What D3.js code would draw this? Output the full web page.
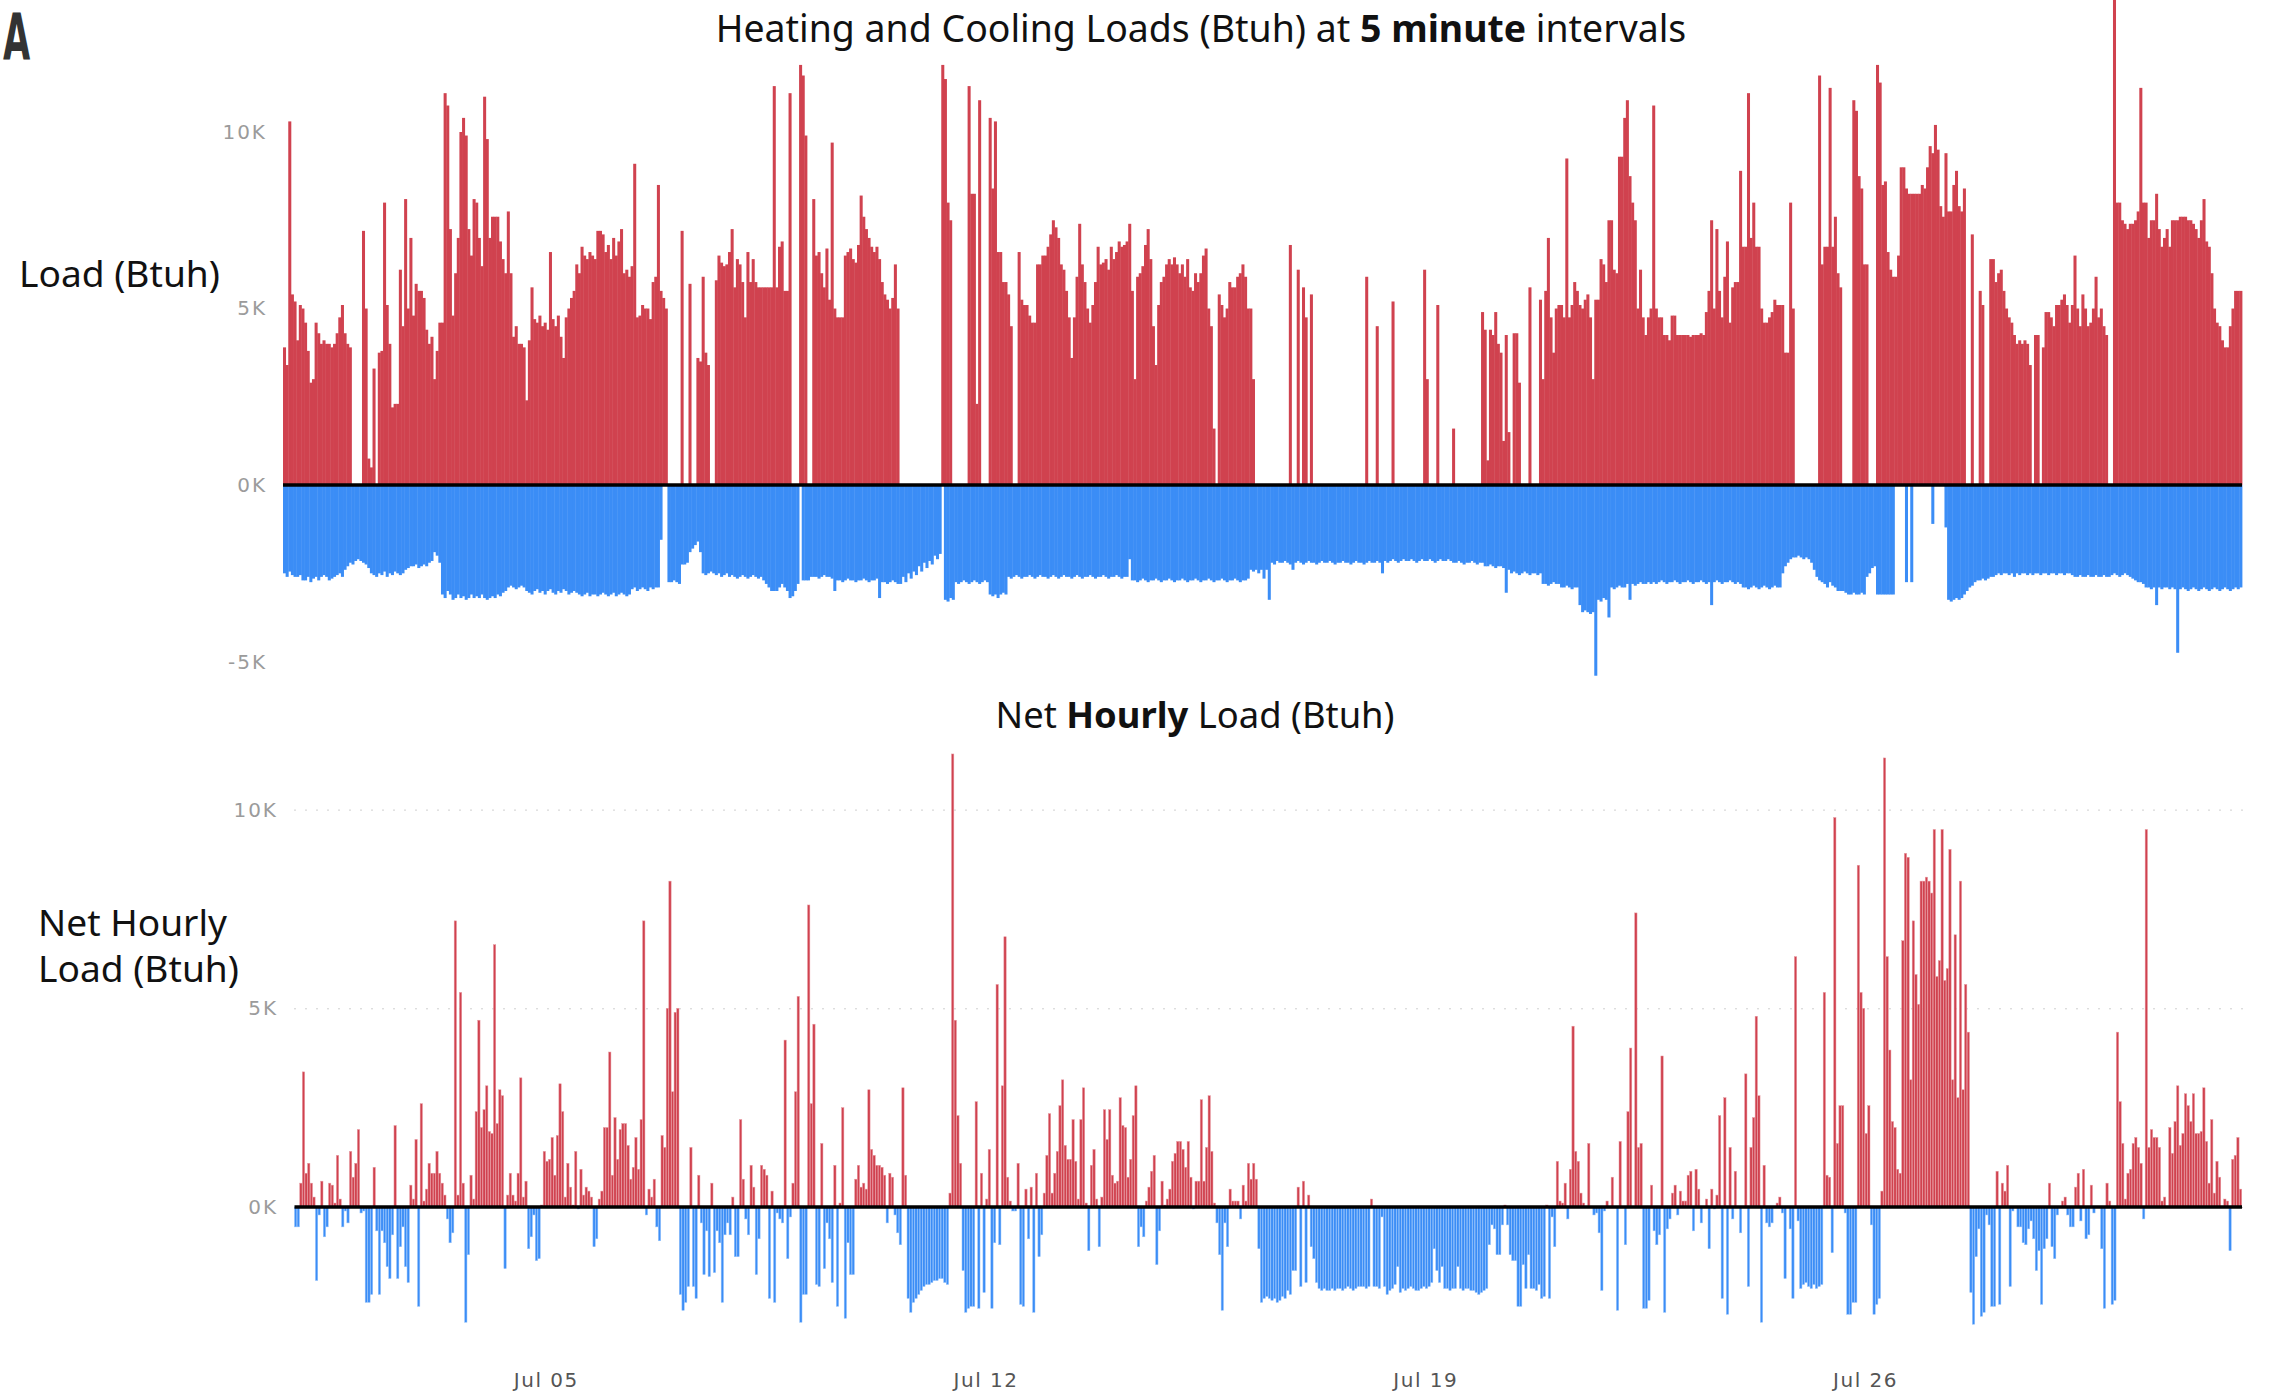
<!DOCTYPE html>
<html>
<head>
<meta charset="utf-8">
<script src="https://cdn.jsdelivr.net/npm/d3@7"></script>
<style>
  html, body { margin: 0; padding: 0; background: #fff; }
  svg { display: block; }
</style>
</head>
<body>
<svg id="chart" width="2275" height="1400"></svg>
<script>
// All loads are in thousands of Btuh, one value per hour of July (one row per day).

// Upper panel: peak positive load within each hour
const posLoadW1 = [
  3.9,3.4,10.3,5.4,5.2,4.1,5.1,5.0,4.6,3.8,2.9,3.0,4.6,4.3,4.0,4.1,4.0,4.0,3.9,4.0,4.3,4.75,5.1,4.3,
  4.0,3.9,0,0,0,0,7.2,5.0,0.75,0.5,3.3,0,3.75,3.8,8.0,5.1,4.0,2.2,2.3,2.3,6.1,4.5,8.1,5.0,
  7.0,4.8,5.7,5.5,5.5,5.3,4.4,4.0,4.2,3.0,3.8,4.6,4.6,11.1,10.75,7.25,4.8,6.0,7.0,10.0,10.4,9.9,7.25,6.5,
  8.1,8.0,7.0,6.2,11.0,9.8,7.0,7.6,7.6,7.6,6.9,6.4,6.0,7.75,6.0,4.2,4.5,4.0,4.0,3.9,2.4,4.1,5.6,4.7,
  4.6,4.8,4.5,4.6,4.4,6.6,4.7,4.5,4.8,4.2,3.6,4.75,5.0,5.3,5.5,6.25,6.0,6.75,6.5,6.4,6.6,6.5,6.4,7.2,
  7.2,7.1,6.6,6.8,6.4,7.0,6.5,6.9,7.25,6.0,6.1,5.9,6.2,9.1,4.75,4.8,5.1,5.0,5.0,4.7,5.75,5.9,8.5,5.5,
  5.3,5.0,0,0,0,0,0,7.2,0,0,5.7,0,0,3.6,3.5,5.9,3.75,3.4,0,0,5.8,6.5,6.3,6.2
];
const posLoadW2 = [
  6.25,6.6,7.25,5.6,6.4,6.25,5.75,4.75,6.6,5.75,6.4,5.75,5.6,5.6,5.6,5.6,5.6,5.6,11.3,5.6,6.75,6.9,5.5,5.5,
  11.1,0,0,0,11.9,11.6,9.9,0,0,8.1,6.5,6.6,6.0,5.6,6.7,5.25,9.7,5.0,4.75,4.75,4.75,6.5,6.6,6.7,
  6.4,6.3,6.8,8.2,7.6,7.25,7.0,6.75,6.6,6.75,6.4,5.75,5.4,5.25,5.0,5.3,6.25,5.0,0,0,0,0,0,0,
  0,0,0,0,0,0,0,0,0,0,11.9,11.5,8.0,7.5,0,0,0,0,0,0,11.3,8.25,8.25,2.3,
  10.9,0,0,0,10.4,8.4,10.3,6.6,6.6,5.75,5.75,5.4,4.5,0,0,6.6,5.25,5.1,5.1,4.8,4.6,4.6,6.25,6.25,
  6.5,6.5,6.75,7.1,7.5,7.3,7.0,6.25,6.1,5.5,4.75,3.6,4.75,5.9,7.4,6.25,5.75,5.0,4.6,5.1,5.75,6.75,6.25,6.3,
  6.4,6.1,6.75,6.4,6.6,6.9,6.75,6.8,6.9,7.4,5.5,3.0,5.9,6.0,6.2,6.8,7.25,6.4,4.5,3.4,5.1,5.75,5.9,6.25
];
const posLoadW3 = [
  6.4,6.25,6.45,6.25,6.0,6.25,5.9,6.4,5.6,5.5,6.0,5.75,6.0,6.5,6.7,5.0,4.5,1.6,0,5.4,5.1,4.75,5.0,5.75,
  5.6,5.6,5.9,6.0,6.25,5.9,5.0,5.0,3.0,0,0,0,0,0,0,0,0,0,0,0,0,0,6.8,0,
  0,6.1,0,5.6,4.75,0,5.4,0,0,0,0,0,0,0,0,0,0,0,0,0,0,0,0,0,
  0,0,0,5.9,0,0,0,4.5,0,0,0,0,0,5.2,0,0,0,0,0,0,0,0,0,0,
  0,6.1,3.0,0,0,0,5.1,0,0,0,0,0,1.6,0,0,0,0,0,0,0,0,0,0,4.9,
  4.4,0.7,4.4,4.25,4.9,4.0,3.75,1.25,4.25,1.5,0,4.3,4.3,2.9,0,0,0,5.6,0,0,0,5.25,3.0,5.5,
  7.0,4.75,3.75,5.0,5.1,5.1,4.75,9.25,4.75,5.1,5.75,5.5,5.1,5.0,5.25,5.4,4.75,3.0,5.25,5.25,6.4,6.25,5.75,7.5
];
const posLoadW4 = [
  7.5,6.1,6.0,9.3,9.3,10.4,10.9,8.75,8.0,7.5,5.0,6.1,4.75,4.25,4.75,5.0,10.75,5.0,4.75,4.75,4.25,4.25,4.1,4.8,
  4.8,4.25,4.25,4.25,4.25,4.25,4.2,4.25,4.25,4.25,4.3,4.25,4.9,5.5,7.5,5.0,7.25,5.5,4.75,5.9,6.9,4.6,5.6,5.75,
  5.75,8.9,6.75,6.75,11.1,7.0,8.0,6.75,6.75,5.0,4.6,4.6,4.75,4.9,5.25,5.1,5.1,5.1,3.75,3.75,8.0,5.0,0,0,
  0,0,0,0,0,0,0,11.6,6.25,6.75,6.75,11.25,6.75,7.6,6.0,5.6,0,0,0,0,10.9,10.6,8.75,8.4,
  6.25,6.25,0,0,0,11.9,11.4,8.5,8.6,6.6,6.1,5.9,5.9,6.5,9.0,9.0,8.4,8.25,8.25,8.25,8.25,8.25,8.5,8.4,
  9.0,9.6,9.4,10.2,9.5,7.9,7.6,9.4,7.75,7.75,8.5,8.9,7.9,7.75,8.4,0,0,7.1,0,0,5.5,5.1,0,0,
  6.4,6.4,5.75,6.0,6.1,5.5,5.0,4.75,4.6,4.25,4.0,4.1,4.0,4.1,4.0,3.4,0,4.25,4.25,0,3.9,4.9,4.9,4.75
];
const posLoadW5 = [
  4.5,5.1,5.1,5.25,5.4,5.1,4.6,5.1,6.5,5.0,4.5,5.4,5.0,4.5,4.6,5.0,5.9,4.75,5.0,4.5,4.25,0,0,14.5,
  8.0,8.0,7.5,7.4,7.25,7.4,7.4,7.5,7.75,11.25,8.0,8.0,7.0,7.5,7.5,8.25,7.25,6.75,7.0,7.25,6.75,7.5,7.5,7.5,
  7.6,7.6,7.6,7.5,7.5,7.4,7.25,7.0,7.5,8.1,6.9,6.75,6.0,5.0,4.6,4.5,4.1,3.9,3.9,4.5,5.0,5.5,5.5,5.5
];

// Upper panel: deepest negative load within each hour
const negLoadW1 = [
  -2.5,-2.6,-2.45,-2.55,-2.6,-2.6,-2.55,-2.7,-2.7,-2.6,-2.75,-2.65,-2.6,-2.7,-2.6,-2.55,-2.6,-2.7,-2.65,-2.6,-2.55,-2.5,-2.6,-2.4,
  -2.3,-2.2,-2.25,-2.15,-2.1,-2.15,-2.2,-2.25,-2.35,-2.5,-2.55,-2.6,-2.5,-2.55,-2.45,-2.6,-2.5,-2.55,-2.45,-2.5,-2.55,-2.5,-2.4,-2.35,
  -2.3,-2.3,-2.25,-2.35,-2.3,-2.25,-2.3,-2.2,-2.15,-1.9,-2.0,-2.2,-3.1,-3.2,-3.0,-3.1,-3.25,-3.2,-3.1,-3.2,-3.15,-3.25,-3.2,-3.1,
  -3.2,-3.15,-3.2,-3.1,-3.2,-3.25,-3.2,-3.15,-3.2,-3.1,-3.15,-3.05,-3.0,-2.9,-2.85,-2.9,-2.95,-2.9,-2.85,-2.9,-3.0,-3.05,-3.1,-3.0,
  -2.95,-3.05,-3.0,-3.1,-3.0,-2.95,-3.05,-3.1,-3.0,-3.05,-2.95,-3.0,-3.1,-3.05,-3.0,-3.05,-3.1,-3.15,-3.1,-3.05,-3.15,-3.1,-3.1,-3.15,
  -3.1,-3.05,-3.1,-3.15,-3.1,-3.05,-3.15,-3.1,-3.05,-3.1,-3.15,-3.1,-2.95,-2.9,-3.0,-2.95,-2.9,-2.95,-3.0,-2.9,-2.95,-2.9,-2.9,-1.55,
  0,0,-2.75,-2.75,-2.7,-2.75,-2.8,-2.25,-2.25,-2.2,-1.9,-1.8,-1.7,-1.6,-1.9,-2.5,-2.55,-2.5,-2.45,-2.5,-2.55,-2.5,-2.6,-2.55
];
const negLoadW2 = [
  -2.5,-2.6,-2.55,-2.6,-2.65,-2.6,-2.55,-2.6,-2.65,-2.6,-2.55,-2.6,-2.65,-2.6,-2.7,-2.8,-2.9,-3.0,-3.0,-3.0,-2.9,-2.8,-2.9,-3.0,
  -3.2,-3.15,-3.0,-2.8,0,-2.7,-2.7,-2.7,-2.6,-2.6,-2.6,-2.65,-2.6,-2.55,-2.6,-2.6,-2.65,-3.0,-2.7,-2.7,-2.75,-2.7,-2.65,-2.7,
  -2.7,-2.75,-2.7,-2.7,-2.65,-2.7,-2.75,-2.7,-2.7,-2.65,-3.2,-2.75,-2.75,-2.8,-2.75,-2.7,-2.75,-2.8,-2.8,-2.6,-2.75,-2.5,-2.65,-2.45,
  -2.55,-2.3,-2.45,-2.2,-2.35,-2.15,-2.25,-2.0,-2.1,-1.95,0,-3.25,-3.3,-3.2,-3.25,-2.75,-2.8,-2.75,-2.7,-2.75,-2.8,-2.75,-2.7,-2.75,
  -2.8,-2.75,-2.7,-2.75,-3.1,-3.15,-3.1,-3.2,-3.1,-3.05,-3.1,-2.6,-2.65,-2.6,-2.55,-2.6,-2.65,-2.6,-2.6,-2.55,-2.6,-2.65,-2.6,-2.55,
  -2.6,-2.6,-2.65,-2.6,-2.55,-2.6,-2.65,-2.6,-2.55,-2.6,-2.6,-2.65,-2.6,-2.55,-2.6,-2.65,-2.6,-2.6,-2.55,-2.6,-2.65,-2.6,-2.6,-2.55,
  -2.6,-2.65,-2.6,-2.6,-2.55,-2.6,-2.65,-2.6,-2.6,-2.1,-2.7,-2.7,-2.75,-2.7,-2.65,-2.7,-2.75,-2.7,-2.7,-2.65,-2.7,-2.75,-2.7,-2.7
];
const negLoadW3 = [
  -2.65,-2.7,-2.75,-2.7,-2.7,-2.65,-2.7,-2.75,-2.7,-2.7,-2.65,-2.7,-2.75,-2.7,-2.7,-2.65,-2.7,-2.75,-2.7,-2.7,-2.65,-2.7,-2.75,-2.7,
  -2.7,-2.65,-2.7,-2.75,-2.7,-2.7,-2.65,-2.4,-2.45,-2.4,-2.5,-2.4,-2.65,-2.4,-3.25,-2.2,-2.25,-2.15,-2.2,-2.2,-2.15,-2.2,-2.25,-2.4,
  -2.2,-2.15,-2.2,-2.25,-2.2,-2.15,-2.2,-2.2,-2.25,-2.2,-2.15,-2.2,-2.2,-2.15,-2.2,-2.25,-2.2,-2.2,-2.15,-2.2,-2.2,-2.25,-2.2,-2.15,
  -2.2,-2.2,-2.25,-2.2,-2.15,-2.2,-2.2,-2.15,-2.2,-2.5,-2.15,-2.2,-2.15,-2.1,-2.15,-2.2,-2.15,-2.1,-2.15,-2.15,-2.1,-2.15,-2.2,-2.15,
  -2.1,-2.15,-2.15,-2.1,-2.15,-2.2,-2.15,-2.1,-2.15,-2.15,-2.1,-2.15,-2.2,-2.2,-2.15,-2.2,-2.25,-2.2,-2.2,-2.15,-2.2,-2.25,-2.2,-2.2,
  -2.3,-2.3,-2.25,-2.3,-2.35,-2.3,-2.3,-2.35,-3.05,-2.4,-2.5,-2.45,-2.5,-2.55,-2.5,-2.45,-2.5,-2.55,-2.5,-2.5,-2.55,-2.5,-2.8,-2.8,
  -2.85,-2.8,-2.75,-2.8,-2.8,-2.9,-2.9,-2.85,-2.9,-2.95,-2.9,-2.9,-3.4,-3.6,-3.55,-3.6,-3.65,-3.6,-5.4,-3.25,-3.3,-3.2,-3.25,-3.75
];
const negLoadW4 = [
  -2.9,-2.95,-2.9,-2.85,-2.9,-2.9,-2.8,-3.25,-2.8,-2.85,-2.8,-2.75,-2.8,-2.8,-2.75,-2.8,-2.75,-2.8,-2.75,-2.7,-2.75,-2.8,-2.75,-2.75,
  -2.7,-2.75,-2.8,-2.75,-2.75,-2.7,-2.75,-2.8,-2.75,-2.75,-2.7,-2.75,-2.8,-2.75,-3.4,-2.75,-2.7,-2.75,-2.8,-2.75,-2.75,-2.7,-2.75,-2.8,
  -2.75,-2.8,-2.9,-2.9,-2.95,-2.9,-2.85,-2.9,-2.95,-2.9,-2.85,-2.9,-2.95,-2.9,-2.85,-2.9,-2.9,-2.5,-2.3,-2.2,-2.1,-2.05,-2.05,-2.0,
  -2.05,-2.1,-2.05,-2.1,-2.2,-2.4,-2.6,-2.7,-2.75,-2.8,-2.9,-2.75,-2.85,-2.9,-3.0,-3.0,-3.0,-3.05,-3.1,-3.1,-3.05,-3.1,-3.1,-3.05,
  -3.1,-2.6,-2.5,-2.35,-2.3,-3.1,-3.1,-3.1,-3.1,-3.1,-3.1,-3.1,0,0,0,0,-2.75,0,-2.75,0,0,0,0,0,
  0,0,-1.1,0,0,0,0,-1.2,-3.25,-3.3,-3.25,-3.2,-3.25,-3.2,-3.1,-3.0,-2.9,-2.85,-2.75,-2.7,-2.7,-2.65,-2.7,-2.65,
  -2.6,-2.6,-2.55,-2.5,-2.55,-2.5,-2.5,-2.55,-2.5,-2.6,-2.5,-2.55,-2.5,-2.5,-2.55,-2.5,-2.55,-2.5,-2.5,-2.55,-2.5,-2.5,-2.55,-2.5
];
const negLoadW5 = [
  -2.5,-2.55,-2.5,-2.5,-2.55,-2.5,-2.5,-2.55,-2.6,-2.6,-2.55,-2.6,-2.6,-2.55,-2.6,-2.6,-2.55,-2.6,-2.6,-2.55,-2.6,-2.6,-2.55,-2.5,
  -2.55,-2.6,-2.55,-2.5,-2.55,-2.6,-2.65,-2.7,-2.75,-2.75,-2.8,-2.9,-2.9,-2.95,-2.9,-3.4,-2.9,-2.95,-2.9,-2.9,-2.95,-2.9,-2.95,-4.75,
  -2.95,-2.9,-2.95,-3.0,-2.95,-2.9,-2.95,-3.0,-2.95,-2.9,-2.95,-3.0,-2.95,-2.9,-2.95,-3.0,-2.95,-2.9,-2.95,-3.0,-2.95,-2.9,-2.95,-2.9
];

// Lower panel: net load for each hour
const netLoadW1 = [
  -0.5,-0.5,0.6,3.4,0.85,1.1,0.6,0.25,-1.85,-0.2,0.65,-0.75,-0.5,0.6,0.55,0.1,1.3,0.2,-0.5,-0.1,-0.4,1.4,0.75,1.1,
  1.95,-0.15,-0.1,-2.4,-2.4,-2.2,1.0,-0.6,-2.2,-0.6,-0.9,-1.5,-1.8,-0.7,2.05,-1.8,-1.0,-0.5,-1.5,-1.9,0.55,0.2,1.7,-2.5,
  2.6,0.15,0.45,1.1,0.85,0.85,1.4,0.85,0.6,0.3,-0.3,-0.9,-0.65,7.2,0.3,5.4,0.6,-2.9,-1.2,0.8,0.2,2.4,4.7,2.0,
  2.45,3.05,1.9,1.85,6.6,2.1,2.95,2.8,-1.55,0.3,0.85,0.3,0.15,0.85,3.25,0.25,0.65,-1.05,-0.75,-0.2,-1.35,-1.3,0.05,1.4,
  1.15,1.2,1.75,0.8,1.8,3.1,2.4,0.25,1.1,0.5,0.05,1.4,-0.05,0.95,0.3,0.5,0.4,0.25,-1.0,-0.8,0.2,0.4,2.0,2.0,
  3.9,0.8,2.25,1.2,1.95,2.1,2.1,1.55,0.7,1.0,1.75,0.95,2.2,7.2,-0.2,0.45,0.25,0.7,-0.5,-0.85,1.8,1.5,5.0,8.2,
  2.9,4.9,5.0,-2.2,-2.6,-2.4,-2.0,1.5,-2.0,-2.3,0.8,-0.4,-1.7,-0.6,-1.75,0.6,-1.65,-0.6,-0.9,-2.4,-0.7,-0.4,-0.7,0.25
];
const netLoadW2 = [
  -1.25,-1.25,2.2,0.7,-0.3,-0.7,1.05,0.5,-1.7,-0.8,1.05,0.95,0.8,-2.3,0.4,-2.4,-0.15,-0.3,-0.4,4.2,-1.3,-0.25,0.6,2.9,
  5.3,-2.9,-2.2,-2.2,7.6,2.6,4.6,-1.95,-2.0,1.6,-1.55,-0.4,-0.8,-1.9,1.05,-2.5,0.1,2.5,-2.8,-0.9,-1.7,-1.7,0.7,1.05,
  0.5,0.6,0.45,2.95,1.45,1.3,1.05,1.05,1.0,0.8,-0.4,0.85,0.75,-0.2,-0.65,-0.95,3.0,0.8,-2.3,-2.65,-2.4,-2.3,-2.2,-2.1,
  -2.0,-1.95,-1.95,-1.9,-1.85,-1.85,-1.8,-1.8,-1.9,-1.95,0.35,11.4,4.7,2.3,1.1,-1.6,-2.65,-2.55,-2.5,-2.5,2.65,-2.55,0.85,-2.15,
  0.2,1.45,-2.55,-0.9,5.6,-0.95,3.05,6.8,0.75,0.15,-0.1,-0.1,1.1,-2.45,-2.5,0.45,-0.8,0.5,-2.65,0.85,-1.25,-0.7,0.35,1.3,
  2.35,0.35,0.85,1.4,2.55,3.2,1.55,1.2,1.2,2.2,1.15,0.2,2.2,3.0,0.1,-1.1,1.05,1.45,0.2,-1.0,0.25,2.45,1.7,2.45,
  0.8,0.6,0.65,2.75,2.05,2.0,0.75,1.2,2.3,3.05,-1.0,-0.5,-0.75,0.15,0.5,0.9,1.3,-1.45,-0.6,0.65,0.05,0.2,0.45,1.15
];
const netLoadW3 = [
  1.35,1.65,1.65,1.45,1.0,1.65,0.75,-0.05,0.65,0.65,2.7,0.65,1.5,2.8,1.4,0.1,-0.4,-1.2,-2.6,-0.4,-1.0,0.45,0.15,0.15,
  0.15,-0.3,0.55,0.15,1.1,0.7,1.1,0.7,-1.05,-2.4,-2.3,-2.25,-2.3,-2.35,-2.3,-2.4,-2.35,-2.25,-2.3,-2.1,-2.2,-1.6,-1.6,0.5,
  -2.0,0.65,-1.9,0.3,-1.0,-1.3,-1.9,-2.05,-2.1,-2.05,-2.1,-2.1,-2.05,-2.1,-2.05,-2.05,-2.1,-2.05,-2.0,-2.05,-2.1,-2.05,-2.0,-2.0,
  -2.0,-2.05,-2.0,0.2,-2.0,-2.0,-2.05,-0.25,-2.0,-2.2,-2.1,-2.05,-1.95,-1.5,-2.15,-2.05,-2.1,-2.05,-2.0,-2.05,-2.1,-2.1,-2.05,-2.0,
  -2.05,-2.0,-1.9,-1.05,-1.6,-1.9,-1.5,-2.05,-2.05,-2.1,-2.05,-2.05,-1.5,-2.05,-2.1,-2.05,-2.05,-2.1,-2.1,-2.15,-2.2,-2.15,-2.1,-2.05,
  -0.95,-0.45,-0.55,-1.2,-1.2,-0.45,0.05,-0.45,-1.2,-1.35,-1.35,-2.5,-2.5,-1.45,-2.05,-1.2,-2.05,-2.05,-2.1,-1.95,-2.3,-2.25,0.05,-2.3,
  -0.25,-1.0,1.15,0.15,0.1,0.6,-0.3,0.95,4.55,1.4,1.15,0.35,0.1,0,1.6,0,-0.2,-0.15,-0.65,-2.1,-0.1,0.15,0,0.75
];
const netLoadW4 = [
  0,-2.6,1.65,0,-0.95,2.4,4.0,0,7.4,1.5,1.6,-2.55,-2.55,-2.35,0.55,-0.6,-0.95,-0.7,3.8,-2.65,-0.55,-0.3,0.35,0.55,
  -0.2,0.4,0.15,0.15,0.8,0.9,-0.6,0.95,0.45,-0.4,0,0.2,-1.05,0.45,-0.05,0.3,2.3,-2.3,2.75,-2.7,1.5,-0.3,0.9,0,
  -0.65,0,3.35,-2.0,1.5,2.25,4.8,2.8,-2.9,1.05,-0.4,-0.5,-0.4,0,0.1,0.25,-0.15,-1.8,0,-0.55,-2.3,6.3,-0.35,-2.05,
  -1.95,-1.9,-2.0,-2.05,-1.95,-2.05,-2.0,-1.95,5.4,0.8,0.75,-1.15,9.8,1.6,2.55,2.55,-0.15,-2.7,-2.7,-2.4,-2.4,8.6,5.4,5.0,
  1.85,2.55,-0.45,-2.7,-2.45,-2.3,0.4,11.3,6.3,3.95,2.15,2.0,0.95,0.85,6.7,8.9,8.8,3.2,7.2,5.85,5.1,8.2,8.2,8.3,
  8.2,7.9,9.5,5.8,6.2,9.5,5.7,6.0,9.0,3.2,6.85,2.75,8.2,2.95,5.6,4.4,-2.15,-2.95,-1.25,-0.55,-2.75,-2.65,-0.2,-0.45,
  -2.5,-2.5,0.9,-2.45,0.6,0.4,1.05,-2.0,-0.1,0,-0.5,-0.5,-0.9,-0.95,-0.55,-0.35,-0.8,-1.6,-1.1,-2.45,-1.05,-0.8,0.6,-1.0
];
const netLoadW5 = [
  -1.3,-0.2,0,0.15,0.25,-0.2,-0.5,-0.5,0.5,0.85,-0.35,0.95,-0.8,-0.7,0.55,-0.15,0,0,-1.05,-2.55,0.6,0.15,-2.45,-2.35,
  4.4,2.65,1.6,0.2,0.85,0.95,1.6,1.75,1.5,1.1,-0.3,9.5,1.5,1.95,1.75,1.75,1.5,0.15,0.25,0,2.0,1.35,2.15,3.05,
  1.55,1.85,2.85,2.55,2.15,2.85,1.85,1.85,1.9,3.0,1.65,0.6,2.2,0.35,1.15,0.75,0,0.2,0.15,-1.1,1.2,1.3,1.75,0.45
];

// Axis ticks
const loadTicks = [10, 5, 0, -5];
const netTicks = [10, 5, 0];
const dateTicks = ["2019-07-05", "2019-07-12", "2019-07-19", "2019-07-26"];

const posLoad = [].concat(posLoadW1, posLoadW2, posLoadW3, posLoadW4, posLoadW5);
const negLoad = [].concat(negLoadW1, negLoadW2, negLoadW3, negLoadW4, negLoadW5);
const netLoad = [].concat(netLoadW1, netLoadW2, netLoadW3, netLoadW4, netLoadW5);

const RED = "#d0424f";
const BLUE = "#3b8df6";
const RED_EDGE = "#e89aa2";
const BLUE_EDGE = "#94c2fb";
const HOUR = 36e5;
const t0 = new Date(2019, 6, 1);
const t1 = new Date(2019, 7, 1);
const hourAt = i => new Date(+t0 + i * HOUR);
const parseDay = d3.timeParse("%Y-%m-%d");

const svg = d3.select("#chart");

// Scales
const xLoad = d3.scaleTime().domain([t0, t1]).range([283, 2242]);
const yLoad = d3.scaleLinear().domain([-5, 10]).range([661.6, 132]);
const xNet = d3.scaleTime().domain([t0, t1]).range([294.5, 2242]);
const yNet = d3.scaleLinear().domain([0, 10]).range([1207, 809.6]);

function fitWidth(sel, width) {
  const w = sel.node().getComputedTextLength();
  const fs = parseFloat(sel.style("font-size"));
  sel.style("font-size", (fs * width / w).toFixed(2) + "px");
}

const tickText = g => g.selectAll("text")
  .style("font-family", "'DejaVu Sans', sans-serif")
  .style("font-size", "20px")
  .style("letter-spacing", "2px")
  .style("fill", "#9b9b9b");

// One bar per hour, from zero to the value
function hourBars(g, data, x, y, fill, extra, edge) {
  const bars = g.selectAll("rect").data(data).join("rect")
    .attr("x", (d, i) => x(hourAt(i)))
    .attr("width", (d, i) => Math.max(0.5, x(hourAt(i + 1)) - x(hourAt(i)) + extra))
    .attr("y", d => Math.min(y(d), y(0)))
    .attr("height", d => Math.abs(y(d) - y(0)))
    .attr("fill", fill);
  if (edge) bars.attr("stroke", edge).attr("stroke-width", 0.5);
}

// Panel letter
svg.append("text")
  .attr("transform", "translate(3,60) scale(0.55,1)")
  .style("font-family", "'DejaVu Sans', sans-serif")
  .style("font-weight", "bold")
  .style("font-size", "64px")
  .style("fill", "#333")
  .text("A");

// ---------- Upper panel ----------
const title1 = svg.append("text")
  .attr("x", 1201).attr("y", 42)
  .attr("text-anchor", "middle")
  .style("font-family", "'Noto Sans', sans-serif")
  .style("font-size", "34px")
  .style("fill", "#111");
title1.append("tspan").text("Heating and Cooling Loads (Btuh) at ");
title1.append("tspan").style("font-weight", "bold").text("5 minute");
title1.append("tspan").text(" intervals");
fitWidth(title1, 971);

const yLabel1 = svg.append("text")
  .attr("x", 19).attr("y", 287)
  .style("font-family", "'Noto Sans', sans-serif")
  .style("font-size", "36px")
  .style("fill", "#111")
  .text("Load (Btuh)");
fitWidth(yLabel1, 201);

const loadAxis = d3.axisLeft(yLoad)
  .tickValues(loadTicks)
  .tickFormat(d => d + "K")
  .tickSize(0)
  .tickPadding(16);
svg.append("g")
  .attr("transform", `translate(${xLoad.range()[0]},0)`)
  .call(loadAxis)
  .call(g => g.select(".domain").remove())
  .call(tickText);

hourBars(svg.append("g"), negLoad, xLoad, yLoad, BLUE, 0.4);
hourBars(svg.append("g"), posLoad, xLoad, yLoad, RED, 0.4);

svg.append("line")
  .attr("x1", xLoad.range()[0]).attr("x2", xLoad.range()[1])
  .attr("y1", yLoad(0)).attr("y2", yLoad(0))
  .attr("stroke", "#000").attr("stroke-width", 3.5);

// ---------- Lower panel ----------
const title2 = svg.append("text")
  .attr("x", 1195).attr("y", 728)
  .attr("text-anchor", "middle")
  .style("font-family", "'Noto Sans', sans-serif")
  .style("font-size", "34px")
  .style("fill", "#111");
title2.append("tspan").text("Net ");
title2.append("tspan").style("font-weight", "bold").text("Hourly");
title2.append("tspan").text(" Load (Btuh)");
fitWidth(title2, 399);

const yLabel2a = svg.append("text")
  .attr("x", 38).attr("y", 936)
  .style("font-family", "'Noto Sans', sans-serif")
  .style("font-size", "36px")
  .style("fill", "#111")
  .text("Net Hourly");
const yLabel2b = svg.append("text")
  .attr("x", 38).attr("y", 982)
  .style("font-family", "'Noto Sans', sans-serif")
  .style("font-size", "36px")
  .style("fill", "#111")
  .text("Load (Btuh)");
fitWidth(yLabel2b, 201);
yLabel2a.style("font-size", yLabel2b.style("font-size"));

const netAxis = d3.axisLeft(yNet)
  .tickValues(netTicks)
  .tickFormat(d => d + "K")
  .tickSize(-(2245 - 294))
  .tickPadding(16);
svg.append("g")
  .attr("transform", "translate(294,0)")
  .call(netAxis)
  .call(g => g.select(".domain").remove())
  .call(g => g.selectAll("line")
    .attr("stroke", "#cfcfcf")
    .attr("stroke-dasharray", "2,9"))
  .call(tickText);

hourBars(svg.append("g"), netLoad, xNet, yNet,
  d => d >= 0 ? RED : BLUE, -0.3,
  d => d >= 0 ? RED_EDGE : BLUE_EDGE);

svg.append("line")
  .attr("x1", xNet.range()[0]).attr("x2", xNet.range()[1])
  .attr("y1", yNet(0)).attr("y2", yNet(0))
  .attr("stroke", "#000").attr("stroke-width", 3.5);

const dateAxis = d3.axisBottom(xNet)
  .tickValues(dateTicks.map(parseDay))
  .tickFormat(d3.timeFormat("%b %d"))
  .tickSize(0)
  .tickPadding(0);
svg.append("g")
  .attr("transform", "translate(0,1373)")
  .call(dateAxis)
  .call(g => g.select(".domain").remove())
  .call(g => g.selectAll("text")
    .style("font-family", "'DejaVu Sans', sans-serif")
    .style("font-size", "20px")
    .style("letter-spacing", "1.5px")
    .style("fill", "#555"));
</script>
</body>
</html>
